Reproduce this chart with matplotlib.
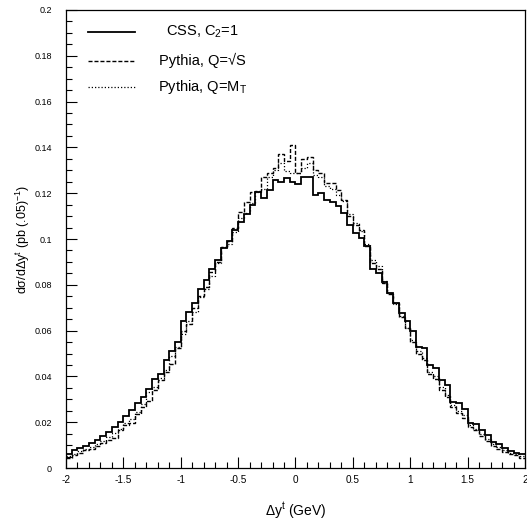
import numpy as np
import matplotlib
matplotlib.use('Agg')
import matplotlib.pyplot as plt

plt.rcParams['font.family'] = ['Liberation Sans', 'DejaVu Sans']
plt.rcParams['axes.unicode_minus'] = False
plt.rcParams['mathtext.default'] = 'regular'

# bin edges: 80 bins of 0.05 from -2 to 2
edges = np.linspace(-2, 2, 81)

css = [0.0061, 0.0078, 0.0088, 0.0098, 0.0108, 0.0122, 0.0138, 0.0158, 0.0180, 0.0200,
       0.0228, 0.0252, 0.0282, 0.0310, 0.0345, 0.0387, 0.0412, 0.0470, 0.0510, 0.0550,
       0.0640, 0.0680, 0.0720, 0.0780, 0.0820, 0.0870, 0.0910, 0.0960, 0.0990, 0.1040,
       0.1076, 0.1110, 0.1150, 0.1207, 0.1178, 0.1214, 0.1258, 0.1250, 0.1265, 0.1250,
       0.1240, 0.1270, 0.1270, 0.1190, 0.1200, 0.1170, 0.1160, 0.1145, 0.1115, 0.1060,
       0.1025, 0.1005, 0.0970, 0.0870, 0.0850, 0.0814, 0.0766, 0.0719, 0.0678, 0.0640,
       0.0600, 0.0530, 0.0523, 0.0450, 0.0435, 0.0384, 0.0362, 0.0290, 0.0282, 0.0256,
       0.0195, 0.0192, 0.0166, 0.0144, 0.0115, 0.0105, 0.0086, 0.0076, 0.0067, 0.0061]

pyth_s = [0.0045, 0.0058, 0.0068, 0.0080, 0.0082, 0.0095, 0.0108, 0.0122, 0.0132, 0.0165,
          0.0188, 0.0198, 0.0235, 0.0265, 0.0295, 0.0340, 0.0384, 0.0420, 0.0455, 0.0525,
          0.0600, 0.0630, 0.0697, 0.0750, 0.0790, 0.0857, 0.0900, 0.0967, 0.0990, 0.1050,
          0.1120, 0.1160, 0.1207, 0.1210, 0.1270, 0.1290, 0.1310, 0.1370, 0.1340, 0.1410,
          0.1290, 0.1350, 0.1360, 0.1300, 0.1290, 0.1245, 0.1245, 0.1215, 0.1170, 0.1100,
          0.1060, 0.1040, 0.0970, 0.0895, 0.0870, 0.0810, 0.0760, 0.0720, 0.0660, 0.0610,
          0.0550, 0.0500, 0.0470, 0.0410, 0.0390, 0.0340, 0.0310, 0.0265, 0.0240, 0.0220,
          0.0180, 0.0165, 0.0140, 0.0118, 0.0098, 0.0085, 0.0072, 0.0062, 0.0055, 0.0045]

pyth_mt = [0.0052, 0.0062, 0.0075, 0.0085, 0.0092, 0.0105, 0.0118, 0.0135, 0.0152, 0.0172,
           0.0195, 0.0215, 0.0245, 0.0280, 0.0330, 0.0355, 0.0395, 0.0430, 0.0490, 0.0530,
           0.0585, 0.0640, 0.0680, 0.0745, 0.0780, 0.0840, 0.0895, 0.0965, 0.0980, 0.1030,
           0.1090, 0.1115, 0.1156, 0.1207, 0.1220, 0.1270, 0.1300, 0.1330, 0.1295, 0.1290,
           0.1290, 0.1310, 0.1330, 0.1280, 0.1270, 0.1230, 0.1220, 0.1190, 0.1165, 0.1110,
           0.1070, 0.1035, 0.0980, 0.0910, 0.0880, 0.0815, 0.0765, 0.0715, 0.0665, 0.0610,
           0.0560, 0.0510, 0.0480, 0.0420, 0.0400, 0.0355, 0.0320, 0.0275, 0.0250, 0.0230,
           0.0190, 0.0172, 0.0148, 0.0125, 0.0103, 0.0090, 0.0078, 0.0068, 0.0060, 0.0052]

labels = ['CSS, C$_2$=1', 'Pythia, Q=\u221aS', 'Pythia, Q=M$_T$']
styles = ['-', (0, (2.9, 1.4)), (0, (1.0, 1.6))]
widths = [1.3, 1.0, 0.9]

fig = plt.figure(figsize=(5.27, 5.23), dpi=100)
ax = fig.add_axes([0.1252, 0.105, 0.871, 0.876])

for vals, ls, lw in zip([css, pyth_s, pyth_mt], styles, widths):
    ax.stairs(vals, edges, baseline=None, color='black', linestyle=ls, linewidth=lw)

# hand-made legend
ly = [0.952, 0.889, 0.832]
for y, lab, ls, lw in zip(ly, labels, styles, widths):
    ax.plot([0.048, 0.150], [y, y], transform=ax.transAxes, color='black',
            linestyle=ls, linewidth=lw)
    ax.text(0.298, y, lab, transform=ax.transAxes, ha='center', va='center', fontsize=10.5)

ax.set_xlim(-2, 2)
ax.set_ylim(0, 0.2)
ax.set_xticks(np.arange(-2, 2.01, 0.5))
ax.set_xticks(np.arange(-2, 2.01, 0.1), minor=True)
ax.set_yticks(np.arange(0, 0.201, 0.02))
ax.set_yticks(np.arange(0, 0.201, 0.005), minor=True)
ax.set_xticklabels(['-2', '-1.5', '-1', '-0.5', '0', '0.5', '1', '1.5', '2'])
ax.set_yticklabels(['0', '0.02', '0.04', '0.06', '0.08', '0.1', '0.12', '0.14', '0.16', '0.18', '0.2'])
ax.tick_params(which='both', direction='in', top=False, right=False, width=0.8)
ax.tick_params(which='major', length=8)
ax.tick_params(which='minor', length=4)
ax.tick_params(axis='y', pad=10, labelsize=6.5)
ax.tick_params(axis='x', pad=5, labelsize=7.2)
for s in ax.spines.values():
    s.set_linewidth(0.9)

ax.set_xlabel('\u0394y$^t$ (GeV)', fontsize=10, labelpad=11)
ax.set_ylabel('d\u03c3/d\u0394y$^t$ (pb (.05)$^{-1}$)', fontsize=9, labelpad=2)

fig.savefig('out.png', dpi=100)
